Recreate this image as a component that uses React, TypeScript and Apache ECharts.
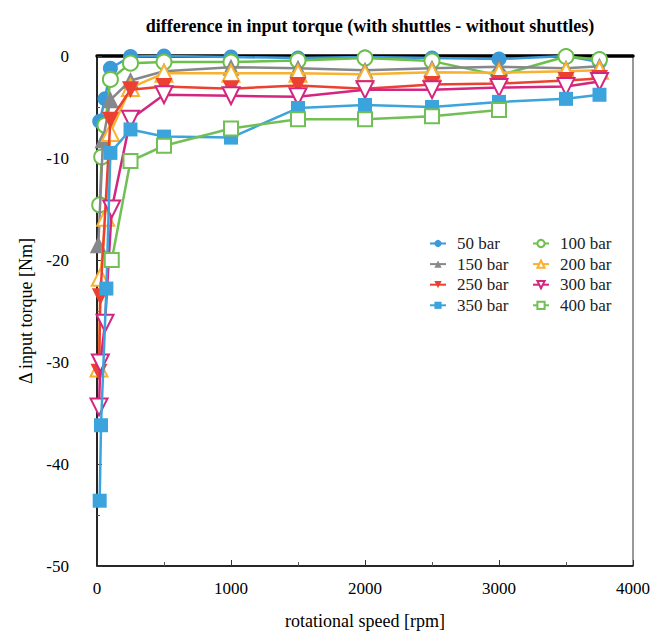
import React, { useEffect, useRef } from "react";
import * as echarts from "echarts";

const TITLE = "difference in input torque (with shuttles - without shuttles)";
const X_NAME = "rotational speed [rpm]";
const Y_NAME = "Δ input torque [Nm]";

const seriesNames = ["50 bar", "100 bar", "150 bar", "200 bar", "250 bar", "300 bar", "350 bar", "400 bar"];

const rpm50 = [20, 60, 100, 250, 500, 1000, 1500, 2000, 2500, 3000, 3500, 3750];
const torque50 = [-6.4, -4.2, -1.2, -0.05, 0, -0.1, -0.2, -0.1, -0.2, -0.3, 0, -0.6];

const rpm100 = [20, 35, 60, 100, 250, 500, 1000, 1500, 2000, 2500, 3000, 3500, 3750];
const torque100 = [-14.6, -9.9, -6.8, -2.3, -0.7, -0.6, -0.6, -0.45, -0.2, -0.5, -1.9, -0.05, -0.35];

const rpm150 = [10, 45, 100, 250, 500, 1000, 1500, 2000, 2500, 3000, 3500, 3750];
const torque150 = [-18.5, -8.2, -4.3, -2.4, -1.5, -1.1, -1.2, -1.4, -1.2, -1.05, -1.2, -1.0];

const rpm200 = [15, 25, 65, 100, 250, 500, 1000, 1500, 2000, 2500, 3000, 3500, 3750];
const torque200 = [-30.6, -21.7, -15.8, -7.5, -3.1, -1.7, -1.7, -1.7, -1.8, -1.6, -1.65, -1.5, -1.4];

const rpm250 = [15, 25, 100, 250, 500, 1000, 1500, 2000, 2500, 3000, 3500, 3750];
const torque250 = [-31.0, -23.6, -6.3, -3.3, -3.0, -3.2, -2.9, -3.2, -2.8, -2.7, -2.4, -2.2];

const rpm300 = [15, 25, 60, 110, 250, 500, 1000, 1500, 2000, 2500, 3000, 3500, 3750];
const torque300 = [-34.4, -30.1, -26.2, -15.0, -6.2, -3.8, -3.9, -4.0, -3.3, -3.3, -3.1, -3.0, -2.5];

const rpm350 = [20, 30, 70, 100, 250, 500, 1000, 1500, 2000, 2500, 3000, 3500, 3750];
const torque350 = [-43.6, -36.2, -22.8, -9.5, -7.2, -7.9, -8.0, -5.1, -4.8, -5.0, -4.5, -4.2, -3.8];

const rpm400 = [110, 250, 500, 1000, 1500, 2000, 2500, 3000];
const torque400 = [-20.0, -10.3, -8.8, -7.1, -6.2, -6.2, -5.9, -5.3];

const rpmSets = [rpm50, rpm100, rpm150, rpm200, rpm250, rpm300, rpm350, rpm400];
const torqueSets = [torque50, torque100, torque150, torque200, torque250, torque300, torque350, torque400];

const colors = ["#3b9ad8", "#6cbf4a", "#86888b", "#f9b130", "#ec4130", "#d42680", "#3ca4dc", "#72bf55"];
const symbols = ["circle", "emptyCircle", "triangle", "emptyTriangle", "triangle", "emptyTriangle", "rect", "emptyRect"];
const rotations = [0, 0, 0, 0, 180, 180, 0, 0];
const sizes = [15, 15, 17, 17, 17, 17, 14, 14];

const FONT = "Liberation Serif";

export default function App() {
  const ref = useRef<HTMLDivElement>(null);
  useEffect(() => {
    if (!ref.current) return;
    const chart = echarts.init(ref.current, undefined, { renderer: "svg" });
    const series: any[] = seriesNames.map((name, i) => ({
      name,
      type: "line",
      xAxisIndex: 0,
      yAxisIndex: 0,
      data: rpmSets[i].map((x, j) => [x, torqueSets[i][j]]),
      symbol: symbols[i],
      symbolSize: sizes[i],
      symbolRotate: rotations[i],
      showAllSymbol: true,
      lineStyle: { color: colors[i], width: 2.5 },
      itemStyle: { color: colors[i], borderWidth: symbols[i].startsWith("empty") ? 2.5 : 0 },
      clip: false,
      z: 2 + i,
    }));
    const legendCommon = {
      orient: "vertical",
      top: 230,
      itemWidth: 16,
      itemHeight: 9,
      itemGap: 3.6,
      textStyle: { fontFamily: FONT, fontSize: 17, color: "#222", lineHeight: 16, padding: [0, 0, 0, 6] },
    };
    chart.setOption({
      animation: false,
      backgroundColor: "#fff",
      textStyle: { fontFamily: FONT },
      title: {
        text: TITLE,
        left: 365,
        textAlign: "center",
        top: 12,
        textStyle: { fontFamily: FONT, fontSize: 18, fontWeight: "bold", color: "#000" },
      },
      legend: [
        { ...legendCommon, left: 424, data: ["50 bar", "150 bar", "250 bar", "350 bar"] },
        { ...legendCommon, left: 527, data: ["100 bar", "200 bar", "300 bar", "400 bar"] },
      ],
      grid: {
        left: 97,
        right: 18,
        top: 56,
        bottom: 69,
        show: true,
        borderColor: "#333",
        borderWidth: 1,
        outerBoundsMode: "none",
        containLabel: false,
      },
      xAxis: [
        {
          type: "value",
          min: 0,
          max: 4000,
          interval: 1000,
          name: X_NAME,
          nameLocation: "middle",
          nameGap: 46,
          nameTextStyle: { fontFamily: FONT, fontSize: 18, color: "#000" },
          axisLine: { show: true, onZero: false, lineStyle: { color: "#000", width: 1.5 } },
          axisTick: { show: true, inside: true, length: 6, lineStyle: { color: "#333" } },
          minorTick: { show: true, splitNumber: 2, length: 4, lineStyle: { color: "#555" } },
          axisLabel: {
            fontFamily: FONT,
            fontSize: 17,
            color: "#000",
            margin: 14,
            formatter: (v: number) => String(v),
          },
          splitLine: { show: false },
        },
        {
          type: "value",
          position: "top",
          min: 0,
          max: 4000,
          interval: 1000,
          axisLine: { show: true, onZero: false, lineStyle: { color: "#000", width: 3.5 } },
          axisTick: { show: false },
          axisLabel: { show: false },
          splitLine: { show: false },
        },
      ],
      yAxis: {
        type: "value",
        min: -50,
        max: 0,
        interval: 10,
        name: Y_NAME,
        nameLocation: "middle",
        nameGap: 62,
        nameTextStyle: { fontFamily: FONT, fontSize: 18, color: "#000" },
        axisLine: { show: true, onZero: false, lineStyle: { color: "#000", width: 1.5 } },
        axisTick: { show: true, inside: true, length: 5, lineStyle: { color: "#333" } },
        minorTick: { show: true, splitNumber: 2, length: 3, lineStyle: { color: "#555" } },
        axisLabel: { fontFamily: FONT, fontSize: 17, color: "#000", margin: 28 },
        splitLine: { show: false },
      },
      series,
    });
    return () => chart.dispose();
  }, []);
  return <div ref={ref} style={{ width: 651, height: 635, position: "absolute", left: 0, top: 0 }} />;
}
